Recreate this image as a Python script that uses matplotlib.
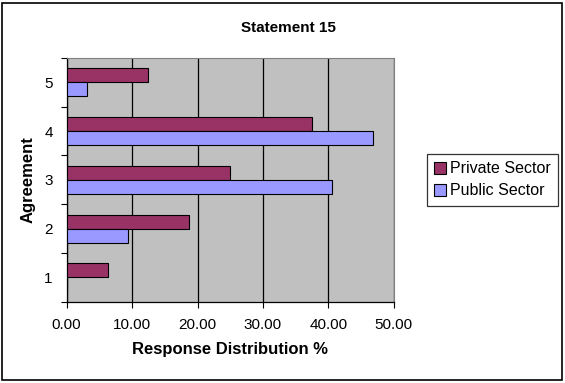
import numpy as np
import matplotlib
matplotlib.use("Agg")
import matplotlib.pyplot as plt
from matplotlib.patches import Rectangle

# data
agreement = ["1", "2", "3", "4", "5"]
private_sector = [6.25, 18.75, 25.00, 37.50, 12.50]
public_sector = [0.00, 9.38, 40.63, 46.88, 3.13]
x_ticks = [0, 10, 20, 30, 40, 50]

plt.rcParams["font.family"] = ["Liberation Sans", "DejaVu Sans"]
plt.rcParams["font.size"] = 11

fig = plt.figure(figsize=(5.65, 3.83), dpi=100)
ax = fig.add_axes([0.118, 0.212, 0.579, 0.637])

# outer chart border
fig.patches.append(Rectangle((0.004, 0.008), 0.99, 0.985, transform=fig.transFigure,
                             fill=False, edgecolor="black", linewidth=1.2))

y = np.arange(len(agreement))
h = 0.287
ax.barh(y + h / 2, private_sector, height=h, color="#993366", edgecolor="black",
        linewidth=0.8, label="Private Sector", zorder=3)
ax.barh(y - h / 2, public_sector, height=h, color="#9999FF", edgecolor="black",
        linewidth=0.8, label="Public Sector", zorder=3)

ax.set_facecolor("#C0C0C0")
ax.set_xlim(0, 50)
ax.set_ylim(-0.5, len(agreement) - 0.5)
ax.set_xticks(x_ticks)
ax.set_xticklabels(["%.2f" % v for v in x_ticks])
ax.xaxis.grid(True, color="black", linewidth=0.9, zorder=1)

# labels at the category centres, tick marks at the boundaries
ax.set_yticks(y)
ax.set_yticklabels(agreement)
ax.set_yticks(np.arange(-0.5, len(agreement), 1), minor=True)
ax.tick_params(axis="y", which="major", length=0, pad=10)
ax.tick_params(axis="y", which="minor", length=4, width=0.8, direction="out")
ax.tick_params(axis="x", length=4, width=0.8, direction="out", pad=8)

for side in ["top", "right"]:
    ax.spines[side].set_color("#808080")
    ax.spines[side].set_linewidth(0.8)
for side in ["left", "bottom"]:
    ax.spines[side].set_color("black")
    ax.spines[side].set_linewidth(0.9)

ax.set_xlabel("Response Distribution %", fontweight="bold", fontsize=12, labelpad=7)
ax.set_ylabel("Agreement", fontweight="bold", fontsize=12, labelpad=6)
fig.text(0.51, 0.928, "Statement 15", ha="center", va="center", fontweight="bold",
         fontsize=11)

leg = ax.legend(loc="center left", bbox_to_anchor=(1.1, 0.5), frameon=True,
                fancybox=False, edgecolor="black", handlelength=0.75, handleheight=0.75,
                handletextpad=0.3, borderpad=0.45, labelspacing=0.45, fontsize=11.5,
                borderaxespad=0)
leg.get_frame().set_linewidth(0.9)

fig.savefig("out.png", dpi=100)
